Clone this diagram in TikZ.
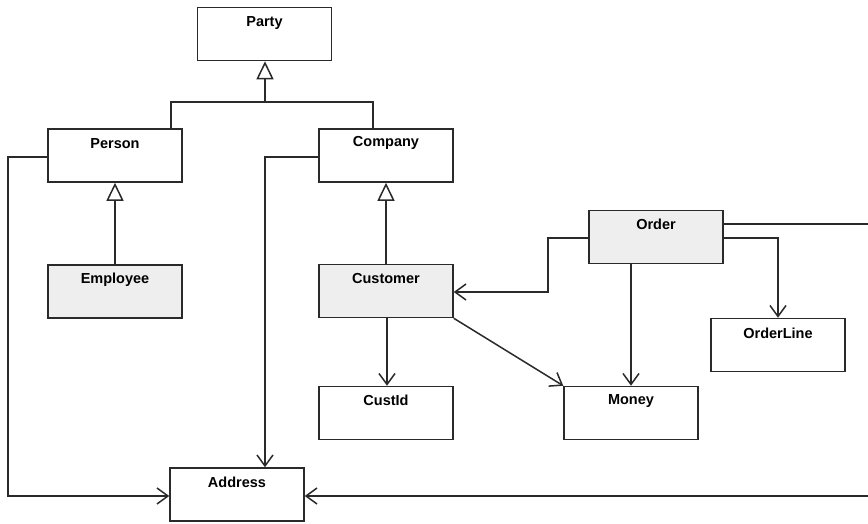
\documentclass[tikz,border=0pt]{standalone}
\usepackage{fontspec}
\setmainfont{Liberation Sans}
\usetikzlibrary{arrows.meta}
\definecolor{edge}{HTML}{2A2A2A}
\definecolor{shade}{HTML}{EEEEEE}
\begin{document}
\begin{tikzpicture}[x=1pt,y=-1pt,
  box/.style={draw=edge, line width=1.5pt, fill=white, minimum width=134pt, minimum height=53pt, inner sep=0pt},
  grey/.style={box, fill=shade},
  lbl/.style={font=\fontsize{14.5}{16}\selectfont\bfseries, text=black, inner sep=0pt},
  link/.style={draw=edge, line width=1.5pt},
  assoc/.style={link, -{Straight Barb[length=11pt, width=16pt, line width=1.5pt]}},
  gen/.style={link, -{Triangle[open, fill=white, length=18pt, width=17pt, line width=1.5pt]}}]
\useasboundingbox (0,0) rectangle (868,523);
\clip (0,0) rectangle (868,523);

% classes
\node[box]  (party)     at (264.5,34)  {};
\node[box]  (person)    at (115,155.5) {};
\node[box]  (company)   at (386,155.5) {};
\node[grey] (employee)  at (115,291.5) {};
\node[grey] (customer)  at (386,291)   {};
\node[grey] (order)     at (656,237)   {};
\node[box]  (orderline) at (778,345)   {};
\node[box]  (custid)    at (386,413)   {};
\node[box]  (money)     at (631,413)   {};
\node[box]  (address)   at (237,494.5) {};

% class names
\node[lbl] (partyt)     at ([yshift=-16pt]party.north)     {Party};
\node[lbl] (persont)    at ([yshift=-15pt]person.north)    {Person};
\node[lbl] (companyt)   at ([yshift=-15pt]company.north)   {Company};
\node[lbl] (employeet)  at ([yshift=-15pt]employee.north)  {Employee};
\node[lbl] (customert)  at ([yshift=-15pt]customer.north)  {Customer};
\node[lbl] (ordert)     at ([yshift=-15pt]order.north)     {Order};
\node[lbl] (orderlinet) at ([yshift=-16pt]orderline.north) {OrderLine};
\node[lbl] (custidt)    at ([yshift=-15pt]custid.north)    {CustId};
\node[lbl] (moneyt)     at ([yshift=-15pt]money.north)     {Money};
\node[lbl] (addresst)   at ([yshift=-15pt]address.north)   {Address};

% helper points for routed connectors
\coordinate (fork) at (265,102);
\coordinate (lx) at (8,0);
\coordinate (ox) at (548,0);
\coordinate (rx) at (900,0);

% generalisations
\draw[link] ([xshift=56pt]person.north) |- (fork) -| ([xshift=-13pt]company.north);
\draw[gen] (fork) -- (fork |- party.south);
\draw[gen] (employee.north) -- (person.south);
\draw[gen] (customer.north) -- (company.south);

% associations
\draw[assoc] ([yshift=-1.5pt]person.west) -- ([yshift=-1.5pt]person.west -| lx) |- ([yshift=-1.5pt]address.west);
\draw[assoc] ([yshift=-1.5pt]company.west) -| ([xshift=28pt]address.north);
\draw[assoc] ([yshift=-1pt]order.west) -- ([yshift=-1pt]order.west -| ox) |- ([yshift=-1pt]customer.east);
\draw[assoc] ([yshift=13pt]order.east) -- ([yshift=13pt]order.east -| rx) |- ([yshift=-1.5pt]address.east);
\draw[assoc] ([yshift=-1pt]order.east) -| (orderline.north);
\draw[assoc] ([xshift=-25pt]order.south) -- (money.north);
\draw[assoc] ([xshift=1pt]customer.south) -- ([xshift=1pt]custid.north);
\draw[assoc] (customer.south east) -- (money.north west);
\end{tikzpicture}
\end{document}
